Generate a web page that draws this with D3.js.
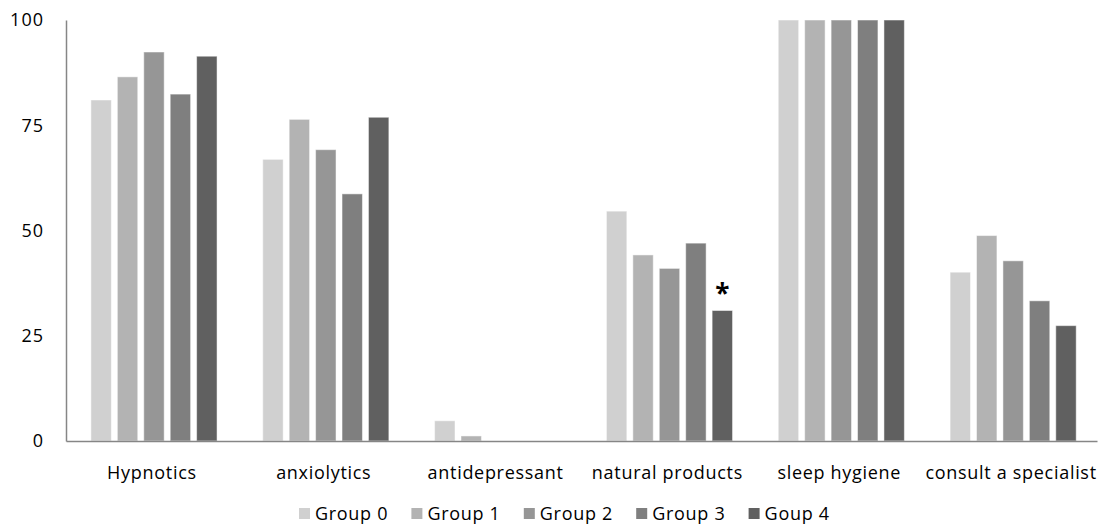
<!DOCTYPE html>
<html><head><meta charset="utf-8">
<script src="https://cdn.jsdelivr.net/npm/d3@7"></script>
<style>body{margin:0;background:#fff;}svg{display:block;}</style>
</head><body>
<svg id="c" width="1100" height="528"></svg>
<script>
const categories = ["Hypnotics","anxiolytics","antidepressant","natural products","sleep hygiene","consult a specialist"];
const groups = ["Group 0","Group 1","Group 2","Group 3","Goup 4"];
const group0 = [81.0, 66.9, 4.8, 54.6, 100, 40.1];
const group1 = [86.5, 76.4, 1.2, 44.2, 100, 48.8];
const group2 = [92.4, 69.2, 0, 41.0, 100, 42.8];
const group3 = [82.4, 58.7, 0, 47.0, 100, 33.3];
const group4 = [91.4, 76.9, 0, 31.0, 100, 27.4];
const yTicks = [0, 25, 50, 75, 100];
const colors = ["#d0d0d0","#b3b3b3","#969696","#7f7f7f","#606060"];
const seriesVals = [group0, group1, group2, group3, group4];

const svg = d3.select("#c");
const L = 66, R = 1097, T = 20, B = 441;
const font = "'Open Sans', sans-serif";
const fs = 18, ls = "0.7px";

const x0 = d3.scaleBand().domain(categories).range([L, R]);
const cw = x0.bandwidth();
const x1 = d3.scaleBand().domain(groups).range([cw*0.145, cw*0.879]).paddingInner(0.227);
const y = d3.scaleLinear().domain([0, 100]).range([B, T]);

// bars
const data = [];
categories.forEach((c, ci) => groups.forEach((g, gi) => data.push({c, g, gi, v: seriesVals[gi][ci]})));
svg.append("g").selectAll("rect").data(data.filter(d => d.v > 0)).join("rect")
  .attr("x", d => x0(d.c) + x1(d.g))
  .attr("width", x1.bandwidth())
  .attr("y", d => y(d.v))
  .attr("height", d => y(0) - y(d.v))
  .attr("fill", d => colors[d.gi])
  .attr("stroke", "#ffffff").attr("stroke-opacity", 0.5).attr("stroke-width", 1);

// y axis
const ya = svg.append("g").attr("transform", `translate(${L},0)`)
  .call(d3.axisLeft(y).tickValues(yTicks).tickSize(0).tickPadding(22));
ya.select(".domain").attr("stroke", "#868686").attr("stroke-width", 1.5);
ya.selectAll("text").attr("font-family", font).attr("font-size", fs).attr("letter-spacing", "1px").attr("fill", "#000");

// x axis
const xa = svg.append("g").attr("transform", `translate(0,${B})`)
  .call(d3.axisBottom(x0).tickSize(0).tickPadding(25));
xa.select(".domain").attr("stroke", "#868686").attr("stroke-width", 1.5);
xa.selectAll("text").attr("font-family", font).attr("font-size", fs).attr("letter-spacing", ls).attr("fill", "#000");

// asterisk
svg.append("text")
  .attr("x", x0("natural products") + x1("Goup 4") + x1.bandwidth()/2)
  .attr("y", y(group4[3]) - 7)
  .attr("text-anchor", "middle")
  .attr("font-family", font).attr("font-size", 26).attr("font-weight", "bold")
  .text("*");

// legend
const lg = svg.append("g");
const lx = d3.scaleBand().domain(groups).range([299, 861]);
groups.forEach((g, i) => {
  lg.append("rect").attr("x", lx(g)).attr("y", 508).attr("width", 11).attr("height", 11).attr("fill", colors[i]);
  lg.append("text").attr("x", lx(g) + 16).attr("y", 520).attr("font-family", font).attr("font-size", fs).attr("letter-spacing", ls).attr("fill", "#000").text(g);
});
</script>
</body></html>
